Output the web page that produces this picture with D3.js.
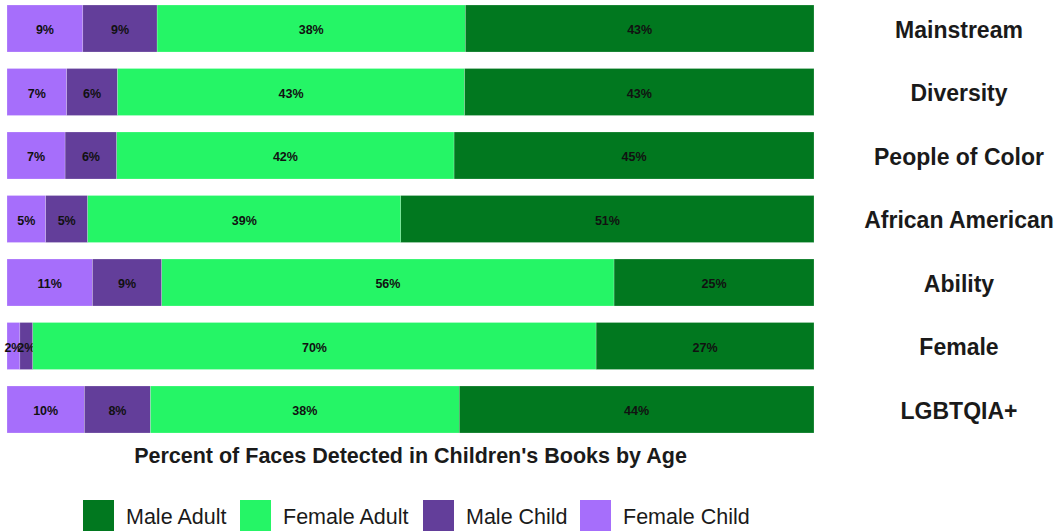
<!DOCTYPE html>
<html><head><meta charset="utf-8">
<script src="https://cdn.jsdelivr.net/npm/d3@7"></script>
<style>body{margin:0;background:#fff}svg{display:block;font-family:"Liberation Sans",Arial,sans-serif}</style>
</head><body><svg id="c" width="1061" height="531"></svg>
<script>
const categories = ["Mainstream","Diversity","People of Color","African American","Ability","Female","LGBTQIA+"];
const femaleChild = [9.4, 7.4, 7.2, 4.8, 10.6, 1.6, 9.6];
const maleChild   = [9.2, 6.3, 6.4, 5.2, 8.6, 1.6, 8.2];
const femaleAdult = [38.2, 43.0, 41.8, 38.8, 56.1, 69.8, 38.3];
const maleAdult   = [43.2, 43.3, 44.6, 51.2, 24.8, 27.0, 44.0];
const seriesNames = ["Female Child","Male Child","Female Adult","Male Adult"];
const legendOrder = ["Male Adult","Female Adult","Male Child","Female Child"];
const colors = {"Male Adult":"#01781F","Female Adult":"#25F566","Male Child":"#633E9A","Female Child":"#A66EFB"};
const title = "Percent of Faces Detected in Children's Books by Age";

const seriesVals = {"Female Child":femaleChild,"Male Child":maleChild,"Female Adult":femaleAdult,"Male Adult":maleAdult};
const rows = categories.map((c,i)=>{const o={cat:c};seriesNames.forEach(s=>o[s]=seriesVals[s][i]);return o;});
const stack = d3.stack().keys(seriesNames).offset(d3.stackOffsetExpand)(rows);

const svg = d3.select("#c");
const x = d3.scaleLinear().domain([0,1]).range([7,814]);
const y = d3.scaleBand().domain(categories).range([-3.25,441.25]).paddingInner(0.26).paddingOuter(0.13);

const g = svg.append("g");
stack.forEach(layer=>{
  const key = layer.key;
  layer.forEach((d,i)=>{
    const cat = categories[i];
    g.append("rect").attr("x",x(d[0])).attr("y",y(cat)).attr("width",x(d[1])-x(d[0])).attr("height",y.bandwidth())
      .attr("fill",colors[key]).attr("stroke","#fff").attr("stroke-width",0.4).attr("stroke-opacity",0.5);
    g.append("text").attr("x",(x(d[0])+x(d[1]))/2).attr("y",y(cat)+y.bandwidth()/2+1.5)
      .attr("text-anchor","middle").attr("dominant-baseline","central")
      .attr("font-size",12.5).attr("font-weight","bold").attr("fill","#111")
      .text(Math.round(seriesVals[key][i])+"%");
  });
});

svg.append("g").selectAll("text").data(categories).join("text")
  .attr("x",959).attr("y",d=>y(d)+y.bandwidth()/2+1).attr("text-anchor","middle").attr("dominant-baseline","central")
  .attr("font-size",23).attr("font-weight","bold").attr("fill","#1a1a1a").text(d=>d);

svg.append("text").attr("x",410.5).attr("y",456).attr("text-anchor","middle").attr("dominant-baseline","central")
  .attr("font-size",21.5).attr("font-weight","bold").attr("fill","#1a1a1a").text(title);

const legX = [83,240,423,580];
const lg = svg.append("g");
legendOrder.forEach((k,i)=>{
  lg.append("rect").attr("x",legX[i]).attr("y",500).attr("width",31).attr("height",31).attr("fill",colors[k]);
  lg.append("text").attr("x",legX[i]+43).attr("y",517).attr("dominant-baseline","central")
    .attr("font-size",21.5).attr("fill","#1a1a1a").text(k);
});
</script></body></html>
